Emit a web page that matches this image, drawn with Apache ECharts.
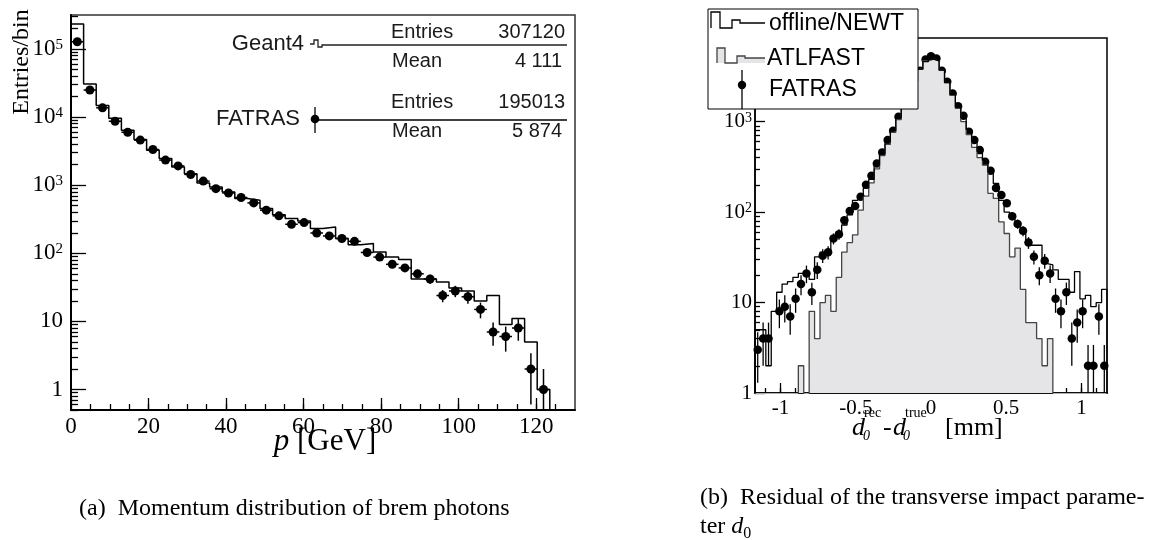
<!DOCTYPE html>
<html>
<head>
<meta charset="utf-8">
<script src="https://cdn.jsdelivr.net/npm/echarts@6/dist/echarts.min.js"></script>
<style>
html, body { margin: 0; padding: 0; background: #fff; }
#main { width: 1156px; height: 540px; }
</style>
</head>
<body>
<div id="main"></div>
<script>
// (a) momentum of brem photons, 40 bins over [0,130] GeV
var pRange = [0, 130];
var geant4 = [233000, 30600, 14800, 9600, 6400, 4700, 3270, 2460, 1860, 1480,
              1080, 944, 795, 637, 600, 454, 370, 324, 299, 231,
              244, 165, 134, 139, 105, 88, 81, 42, 42, 38,
              31, 28, 20, 24, 9, 11, 5, 1, 0, 0];
var fatrasP = [128000, 25000, 13700, 8700, 6000, 4600, 3350, 2340, 1920, 1440,
               1150, 890, 770, 660, 550, 430, 355, 267, 283, 199,
               180, 165, 150, 103, 88, 69, 61, 50, 42, 24,
               28, 23, 15, 7, 6, 8, 2, 1, null, null];
var fatrasPErr = [358, 158, 117, 93, 77, 68, 58, 48, 44, 38,
                  34, 30, 28, 26, 23, 21, 19, 16, 17, 14,
                  13, 13, 12, 10, 9.4, 8.3, 7.8, 7.1, 6.5, 4.9,
                  5.3, 4.8, 3.9, 2.6, 2.4, 2.8, 1.4, 1, null, null];

// (b) d0 residual, 65 bins over [-1.17,1.17] mm
var d0Range = [-1.17, 1.17];
var newt = [5, 5, 2, 8, 13, 16, 17, 19, 21, 21,
            18, 32, 36, 38, 53, 60, 72, 93, 135, 150,
            185, 230, 330, 440, 600, 800, 1100, 1500, 2050, 2800,
            3800, 4600, 4900, 4700, 3700, 2700, 2000, 1450, 1100, 820,
            600, 470, 375, 279, 207, 135, 100, 85, 70, 58,
            49, 43, 43, 27, 26, 23, 18, 18, 13, 22,
            11, 12, 9, 10, 14];
var atlfast = [0, 0, 0, 0, 0, 0, 0, 0, 2, 0,
               8, 4, 10, 12, 8, 19, 36, 46, 56, 105,
               150, 210, 300, 420, 560, 760, 1050, 1450, 2000, 2800,
               3800, 4700, 4900, 4700, 3700, 2700, 1950, 1400, 1000, 720,
               520, 400, 330, 161, 142, 78, 58, 32, 40, 14,
               6, 6, 4, 2, 4, 0, 0, 0, 0, 0,
               0, 0, 0, 0, 0];
var fatrasD = [3, 4, 4, null, 8, 9, 7, 11, 16, 21,
               13, 23, 33, 36, 51, 57, 81, 103, 117, 148,
               200, 252, 345, 457, 625, 791, 1130, 1500, 2000, 2700,
               3650, 4860, 5290, 4990, 3650, 2750, 2040, 1480, 1160, 771,
               625, 484, 360, 286, 185, 154, 125, 90, 74, 62,
               46, 32, 20, 29, 21, 11, 8, 13, 4, 6,
               8, 2, 2, 7, 2];
var fatrasDErr = [1.7, 2, 2, null, 2.8, 3, 2.6, 3.3, 4, 4.6,
                  3.6, 4.8, 5.7, 6, 7.1, 7.5, 9, 10, 11, 12,
                  14, 16, 19, 21, 25, 28, 34, 39, 45, 52,
                  60, 70, 73, 71, 60, 52, 45, 38, 34, 28,
                  25, 22, 19, 17, 14, 12, 11, 9.5, 8.6, 7.9,
                  6.8, 5.7, 4.5, 5.4, 4.6, 3.3, 2.8, 3.6, 2, 2.4,
                  2.8, 1.4, 1.4, 2.6, 1.4];

// tick labels
var pTicks = [0, 20, 40, 60, 80, 100, 120];
var pDecades = [1, 10, 100, 1000, 10000, 100000];
var d0Ticks = [-1, -0.5, 0, 0.5, 1];
var d0Decades = [1, 10, 100, 1000];

var serif = 'Liberation Serif';
var sans = 'Liberation Sans';

function linTicks(a, b, step) {
    var r = [];
    for (var v = a; v <= b + 1e-9; v += step) r.push(+v.toFixed(4));
    return r;
}
function logMinor(lo, hi) {
    var r = [];
    for (var e = -1; e <= 6; e++) {
        for (var m = 2; m <= 9; m++) {
            var v = +(m * Math.pow(10, e)).toPrecision(3);
            if (v >= lo && v <= hi) r.push(v);
        }
    }
    return r;
}
function powLabel(v) {
    var e = Math.round(Math.log(v) / Math.LN10);
    if (e === 0) return '1';
    if (e === 1) return '10';
    return '10{sup|' + e + '}';
}

// histogram outline as step points (bin low edges), empty bins pushed below the axis
function stepData(range, vals, floor) {
    var w = (range[1] - range[0]) / vals.length;
    var pts = [[range[0], floor]];
    for (var i = 0; i < vals.length; i++) {
        pts.push([range[0] + i * w, vals[i] > 0 ? vals[i] : floor]);
    }
    var last = vals[vals.length - 1];
    pts.push([range[1], last > 0 ? last : floor]);
    pts.push([range[1], floor]);
    return pts;
}
function pointData(range, vals, errs) {
    var w = (range[1] - range[0]) / vals.length;
    var pts = [], bars = [];
    for (var i = 0; i < vals.length; i++) {
        if (vals[i] == null || vals[i] <= 0) continue;
        var x = range[0] + (i + 0.5) * w;
        pts.push([x, vals[i]]);
        bars.push([x, vals[i], errs[i], w / 2]);
    }
    return {pts: pts, bars: bars};
}
function errorBars(ymin, ymax, lw) {
    return function (params, api) {
        var x = api.value(0), y = api.value(1), e = api.value(2), hw = api.value(3);
        var a = api.coord([x, Math.min(y + e, ymax)]);
        var b = api.coord([x, Math.max(y - e, ymin)]);
        var l = api.coord([x - hw, y]), r = api.coord([x + hw, y]);
        return {
            type: 'group',
            children: [
                {type: 'line', shape: {x1: a[0], y1: a[1], x2: b[0], y2: b[1]}, style: {stroke: '#000', lineWidth: lw}},
                {type: 'line', shape: {x1: l[0], y1: l[1], x2: r[0], y2: r[1]}, style: {stroke: '#000', lineWidth: lw}}
            ]
        };
    };
}

var pY = [0.5, 316228];
var dY = [1, 8400];
var pPoints = pointData(pRange, fatrasP, fatrasPErr);
var dPoints = pointData(d0Range, fatrasD, fatrasDErr);

function axisBase(grid, type, pos, min, max, ticks, len, lineW) {
    return {
        gridIndex: grid, type: type, position: pos, min: min, max: max,
        axisLine: {show: lineW > 0, onZero: false, lineStyle: {color: '#000', width: lineW}},
        axisTick: {show: true, inside: true, length: len, customValues: ticks, lineStyle: {color: '#000', width: 1.3}},
        axisLabel: {show: false},
        splitLine: {show: false},
        minorTick: {show: false}
    };
}

var xAxes = [
    axisBase(0, 'value', 'bottom', pRange[0], pRange[1], pTicks, 12, 2),
    axisBase(0, 'value', 'bottom', pRange[0], pRange[1], linTicks(5, 125, 5), 6, 0),
    axisBase(1, 'value', 'bottom', d0Range[0], d0Range[1], d0Ticks, 10, 1.5),
    axisBase(1, 'value', 'bottom', d0Range[0], d0Range[1], linTicks(-1.1, 1.1, 0.1), 5, 0)
];
xAxes[0].axisLabel = {show: true, customValues: pTicks, margin: 5, color: '#000', fontFamily: serif, fontSize: 23};
xAxes[2].axisLabel = {show: true, customValues: d0Ticks, margin: 5, color: '#000', fontFamily: serif, fontSize: 21,
    formatter: function (v) { return String(v); }};

var yAxes = [
    axisBase(0, 'log', 'left', pY[0], pY[1], pDecades, 15, 2),
    axisBase(0, 'log', 'left', pY[0], pY[1], logMinor(pY[0], pY[1]), 7, 0),
    axisBase(1, 'log', 'left', dY[0], dY[1], d0Decades, 10, 1.5),
    axisBase(1, 'log', 'left', dY[0], dY[1], logMinor(dY[0], dY[1]), 5, 0)
];
yAxes[0].axisLabel = {show: true, customValues: pDecades, formatter: powLabel, margin: 8, color: '#000',
    fontFamily: serif, fontSize: 23,
    rich: {sup: {fontFamily: serif, fontSize: 15, lineHeight: 15, verticalAlign: 'top', color: '#000'}}};
yAxes[2].axisLabel = {show: true, customValues: d0Decades, formatter: powLabel, margin: 3, color: '#000',
    fontFamily: serif, fontSize: 21,
    rich: {sup: {fontFamily: serif, fontSize: 14, lineHeight: 14, verticalAlign: 'top', color: '#000'}}};

function txt(text, x, y, size, opts) {
    opts = opts || {};
    return {
        type: 'text', x: x, y: y, z: 100, rotation: opts.rotation || 0,
        style: {
            text: text, fill: opts.color || '#000', fontFamily: opts.font || sans, fontSize: size,
            fontStyle: opts.italic ? 'italic' : 'normal',
            align: opts.align || 'left', verticalAlign: 'middle', rich: opts.rich
        }
    };
}
function poly(points, stroke, fill) {
    return {
        type: fill ? 'polygon' : 'polyline', z: 100, shape: {points: points},
        style: {stroke: stroke, fill: fill || null, lineWidth: 1.3}
    };
}
function seg(x1, y1, x2, y2, w) {
    return {type: 'line', z: 100, shape: {x1: x1, y1: y1, x2: x2, y2: y2}, style: {stroke: '#000', lineWidth: w || 1.3}};
}
function dot(x, y, r) {
    return {type: 'circle', z: 101, shape: {cx: x, cy: y, r: r}, style: {fill: '#000'}};
}

var statColor = '#1a1a1a';
var graphics = [
    // stat box (a)
    txt('Geant4', 304, 44, 22, {align: 'right', color: statColor}),
    poly([[310, 44], [314, 44], [314, 40], [318, 40], [318, 47], [322, 47], [322, 45], [567, 45]], '#222'),
    txt('Entries', 391, 32, 20, {color: statColor}),
    txt('307120', 565, 32, 20, {align: 'right', color: statColor}),
    txt('Mean', 392, 61, 20, {color: statColor}),
    txt('4 111', 562, 61, 20, {align: 'right', color: statColor}),
    txt('FATRAS', 300, 119, 22, {align: 'right', color: statColor}),
    seg(315, 120, 567, 120),
    seg(315, 107, 315, 133),
    dot(315, 119, 4.3),
    txt('Entries', 391, 102, 20, {color: statColor}),
    txt('195013', 565, 102, 20, {align: 'right', color: statColor}),
    txt('Mean', 392, 131, 20, {color: statColor}),
    txt('5 874', 562, 131, 20, {align: 'right', color: statColor}),

    // axis titles (a)
    txt('Entries/bin', 22, 62, 24, {font: serif, align: 'center', rotation: Math.PI / 2}),
    txt('{i|p} [GeV]', 325, 442, 31, {font: serif, align: 'center',
        rich: {i: {fontFamily: serif, fontSize: 31, fontStyle: 'italic'}}}),

    // legend (b)
    {type: 'rect', z: 99, shape: {x: 708, y: 9, width: 210, height: 100}, style: {fill: '#fff', stroke: '#000', lineWidth: 1}},
    poly([[711, 28], [711, 12], [720, 12], [720, 28], [732, 28], [732, 20], [740, 20], [740, 23], [765, 23]], '#000'),
    poly([[717, 63], [717, 48], [725, 48], [725, 63], [737, 63], [737, 56], [745, 56], [745, 58], [765, 58], [765, 63]], null, '#e5e5e8'),
    poly([[717, 63], [717, 48], [725, 48], [725, 63], [737, 63], [737, 56], [745, 56], [745, 58], [765, 58]], '#444'),
    seg(742, 70, 742, 109),
    dot(742, 85, 4.2),
    txt('offline/NEWT', 769, 24, 23),
    txt('ATLFAST', 767, 59, 23),
    txt('FATRAS', 769, 90, 23),

    // axis title (b)
    txt('d', 852, 428, 26, {font: serif, italic: true}),
    txt('0', 863, 436, 14, {font: serif, italic: true}),
    txt('rec', 864, 413, 14, {font: serif}),
    txt('-', 883, 428, 26, {font: serif}),
    txt('d', 893, 428, 26, {font: serif, italic: true}),
    txt('0', 903, 436, 14, {font: serif, italic: true}),
    txt('true', 905, 413, 14, {font: serif}),
    txt('[mm]', 945, 428, 26, {font: serif}),

    // captions
    txt('(a)  Momentum distribution of brem photons', 79, 509, 24, {font: serif}),
    txt('(b)  Residual of the transverse impact parame-', 700, 498, 24, {font: serif}),
    txt('ter {i|d}{sub|0}', 700, 527, 24, {font: serif,
        rich: {i: {fontFamily: serif, fontSize: 24, fontStyle: 'italic', lineHeight: 30},
               sub: {fontFamily: serif, fontSize: 16, lineHeight: 16, verticalAlign: 'bottom'}}})
];

var option = {
    animation: false,
    backgroundColor: '#fff',
    grid: [
        {left: 71, top: 15, width: 504, height: 395, show: true, borderColor: '#333', borderWidth: 1.5},
        {left: 755, top: 38, width: 352, height: 355, show: true, borderColor: '#000', borderWidth: 1.5}
    ],
    xAxis: xAxes,
    yAxis: yAxes,
    graphic: graphics,
    series: [
        {
            name: 'Geant4', type: 'line', xAxisIndex: 0, yAxisIndex: 0, step: 'end',
            data: stepData(pRange, geant4, 0.1), symbol: 'none', clip: true,
            lineStyle: {color: '#000', width: 1.5}
        },
        {
            name: 'FATRAS err', type: 'custom', xAxisIndex: 0, yAxisIndex: 0,
            dimensions: ['x', 'y', 'err', 'hw'], encode: {x: 0, y: 1},
            renderItem: errorBars(pY[0], pY[1], 1.5), data: pPoints.bars
        },
        {
            name: 'FATRAS', type: 'scatter', xAxisIndex: 0, yAxisIndex: 0,
            data: pPoints.pts, symbol: 'circle', symbolSize: 9, itemStyle: {color: '#000', opacity: 1}
        },
        {
            name: 'ATLFAST', type: 'line', xAxisIndex: 2, yAxisIndex: 2, step: 'end',
            data: stepData(d0Range, atlfast, 0.1), symbol: 'none', clip: true,
            lineStyle: {color: '#444', width: 1.3},
            areaStyle: {color: '#e5e5e8', opacity: 1, origin: 'start'}
        },
        {
            name: 'offline/NEWT', type: 'line', xAxisIndex: 2, yAxisIndex: 2, step: 'end',
            data: stepData(d0Range, newt, 0.1), symbol: 'none', clip: true,
            lineStyle: {color: '#000', width: 1.3}
        },
        {
            name: 'FATRAS d0 err', type: 'custom', xAxisIndex: 2, yAxisIndex: 2,
            dimensions: ['x', 'y', 'err', 'hw'], encode: {x: 0, y: 1},
            renderItem: errorBars(dY[0], dY[1], 1.3), data: dPoints.bars
        },
        {
            name: 'FATRAS d0', type: 'scatter', xAxisIndex: 2, yAxisIndex: 2,
            data: dPoints.pts, symbol: 'circle', symbolSize: 8.5, itemStyle: {color: '#000', opacity: 1}
        }
    ]
};

var myChart = echarts.init(document.getElementById('main'));
myChart.setOption(option);
</script>
</body>
</html>
